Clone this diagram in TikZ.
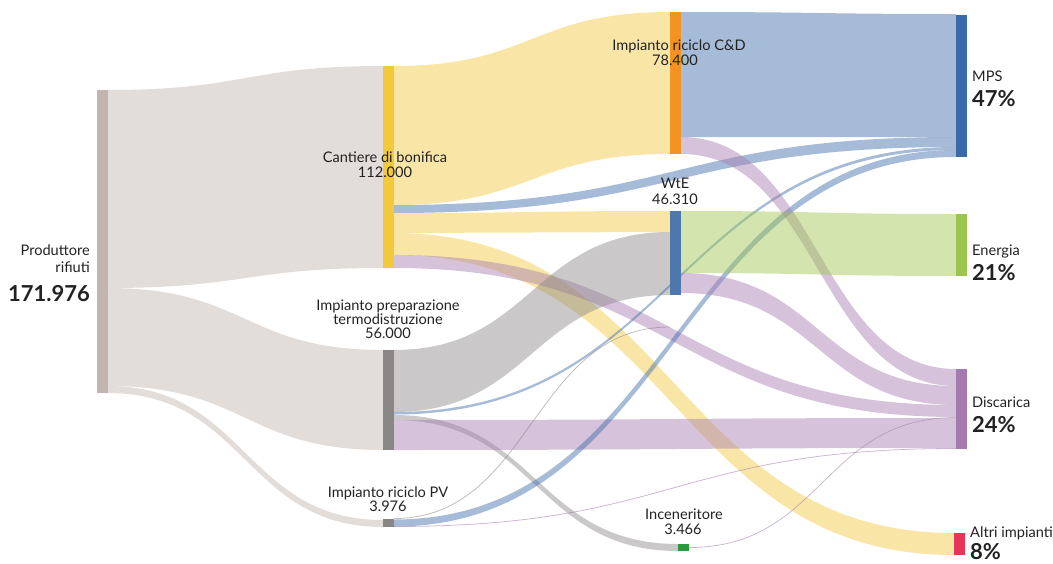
\documentclass[tikz,border=0pt]{standalone}
\usepackage{fontspec}
\setmainfont{Lato}
\definecolor{cProd}{HTML}{C2B4AE}
\definecolor{cCant}{HTML}{F2C83C}
\definecolor{cPrep}{HTML}{8A8685}
\definecolor{cCD}{HTML}{F39322}
\definecolor{cWtE}{HTML}{4E78AC}
\definecolor{cInc}{HTML}{2A9A3C}
\definecolor{cMPS}{HTML}{3A69A8}
\definecolor{cEne}{HTML}{9DC44C}
\definecolor{cDis}{HTML}{A57BAF}
\definecolor{cAlt}{HTML}{E8345A}
\definecolor{cTxt}{HTML}{222222}
\newcommand{\band}[7]{%
  \fill[#1, fill opacity=0.45] (#2,#3) .. controls ({(#2+#5)/2},#3) and ({(#2+#5)/2},#6) .. (#5,#6)
    -- (#5,#7) .. controls ({(#2+#5)/2},#7) and ({(#2+#5)/2},#4) .. (#2,#4) -- cycle;}
\newcommand{\thinband}[5]{%
  \draw[#1, draw opacity=0.55, line width=0.8pt] (#2,#3) .. controls ({(#2+#4)/2},#3) and ({(#2+#4)/2},#5) .. (#4,#5);}
\tikzset{
  bar/.style={fill=#1, draw=none},
  lbl/.style={font=\fontsize{14.6}{16}\selectfont, text=cTxt, inner sep=0pt, anchor=base},
  big/.style={font=\fontsize{22}{24}\selectfont\bfseries, text=cTxt, inner sep=0pt, anchor=base},
}
\begin{document}
\begin{tikzpicture}[x=1pt, y=-1pt]
\useasboundingbox (0,0) rectangle (1053,563);
% links
\band{cProd}{108}{90}{288}{383}{66}{268}
\band{cProd}{108}{288}{386}{383}{350}{450}
\band{cProd}{108}{386}{393}{383}{520}{527}
\band{cCant}{394}{66}{205}{670}{12}{154}
\band{cMPS}{394}{205}{213}{956}{137}{147}
\band{cCant}{394}{213}{233}{670}{211}{232}
\band{cCant}{394}{233}{255}{954}{533}{555}
\band{cDis}{394}{255}{268}{956}{405}{417}
\band{cPrep}{394}{350}{412}{670}{232}{295}
\band{cMPS}{394}{412}{414.5}{956}{147}{150}
\band{cPrep}{394}{415}{420}{678}{544}{551}
\band{cDis}{394}{420}{450}{956}{418}{448}
\thinband{cPrep}{394}{518.5}{670}{327}
\band{cMPS}{394}{519.5}{526.5}{956}{150}{157}
\thinband{cDis}{394}{526.5}{956}{448.5}
\band{cMPS}{681}{12}{137}{956}{14}{137}
\band{cDis}{681}{137}{154}{956}{369}{386}
\band{cEne}{681}{211}{273}{956}{214}{276}
\band{cDis}{681}{273}{293}{956}{386}{405}
\thinband{cDis}{689}{547.5}{956}{417.5}
% nodes
\fill[bar=cProd] (97,90) rectangle (108,393) coordinate (prod);
\fill[bar=cCant] (383,66) rectangle (394,268) coordinate (cant);
\fill[bar=cPrep] (383,350) rectangle (394,450) coordinate (prep);
\fill[bar=cPrep] (383,519) rectangle (394,527) coordinate (pv);
\fill[bar=cCD] (670,12) rectangle (681,154) coordinate (cd);
\fill[bar=cWtE] (670,211) rectangle (681,295) coordinate (wte);
\fill[bar=cInc] (678,544) rectangle (689,551) coordinate (inc);
\fill[bar=cMPS] (956,15) rectangle (967,157) coordinate (mps);
\fill[bar=cEne] (956,214) rectangle (967,276) coordinate (ene);
\fill[bar=cDis] (956,369) rectangle (967,449) coordinate (dis);
\fill[bar=cAlt] (954,533) rectangle (965,555) coordinate (alt);
% labels
\node[lbl, anchor=base east] (tProd1) at (90,255) {Produttore};
\node[lbl, anchor=base east] (tProd2) at (90,272) {rifiuti};
\node[big, anchor=base east] (tProd3) at (90,301) {171.976};
\node[lbl] (tCant1) at (385,162) {Cantiere di bonifica};
\node[lbl] (tCant2) at (385,177) {112.000};
\node[lbl] (tPrep1) at (388,310) {Impianto preparazione};
\node[lbl] (tPrep2) at (388,324) {termodistruzione};
\node[lbl] (tPrep3) at (388,338) {56.000};
\node[lbl] (tPV1) at (388,497) {Impianto riciclo PV};
\node[lbl] (tPV2) at (388,511) {3.976};
\node[lbl] (tCD1) at (679,50) {Impianto riciclo C\&D};
\node[lbl] (tCD2) at (675,65) {78.400};
\node[lbl] (tWtE1) at (675,188) {WtE};
\node[lbl] (tWtE2) at (675,204) {46.310};
\node[lbl] (tInc1) at (684,519) {Inceneritore};
\node[lbl] (tInc2) at (683,534) {3.466};
\node[lbl, anchor=base west] (tMPS1) at (972,81) {MPS};
\node[big, anchor=base west] (tMPS2) at (972,106) {47\%};
\node[lbl, anchor=base west] (tEne1) at (972,255) {Energia};
\node[big, anchor=base west] (tEne2) at (972,280) {21\%};
\node[lbl, anchor=base west] (tDis1) at (972,407) {Discarica};
\node[big, anchor=base west] (tDis2) at (972,432) {24\%};
\node[lbl, anchor=base west] (tAlt1) at (970,537) {Altri impianti};
\node[big, anchor=base west] (tAlt2) at (970,559) {8\%};
\end{tikzpicture}
\end{document}
